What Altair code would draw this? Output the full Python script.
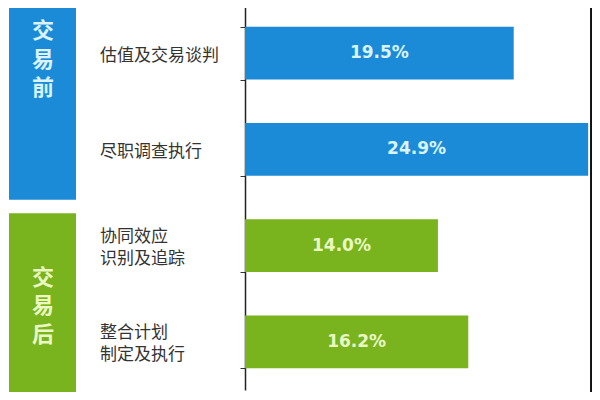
import altair as alt
import pandas as pd

# ---- data ----
categories = ["估值及交易谈判", "尽职调查执行", "协同效应\n识别及追踪", "整合计划\n制定及执行"]
values = [19.5, 24.9, 14.0, 16.2]
value_labels = ["19.5%", "24.9%", "14.0%", "16.2%"]
groups = ["交易前", "交易前", "交易后", "交易后"]

group_names = ["交易前", "交易后"]
group_first = ["估值及交易谈判", "协同效应\n识别及追踪"]
group_last = ["尽职调查执行", "整合计划\n制定及执行"]

# ---- styling / layout constants ----
BLUE = "#1B8BD7"
GREEN = "#79B31E"
BLUE_TXT = "#D9F4FF"
GREEN_TXT = "#EAF9C4"
X_MAX = 25.18      # right end of plot (value units)
X_RULE = 25.11     # right border line
CJK = "Noto Sans CJK SC"

df = pd.DataFrame({"cat": categories, "value": values, "label": value_labels, "group": groups})

yscale = alt.Scale(domain=categories, range=[-3, 382], paddingInner=0.45, paddingOuter=0.225)
xscale = alt.Scale(domain=[0, X_MAX], nice=False, zero=True)
cscale = alt.Scale(domain=group_names, range=[BLUE, GREEN])
txt_color = alt.condition(alt.datum.group == group_names[0], alt.value(BLUE_TXT), alt.value(GREEN_TXT))

base = alt.Chart(df)

bars = base.mark_bar().encode(
    y=alt.Y("cat:N", scale=yscale, sort=categories,
            axis=alt.Axis(title=None, domainColor="#222", domainWidth=1.5,
                          ticks=True, tickBand="extent", tickSize=5, tickColor="#333",
                          labels=False)),
    x=alt.X("value:Q", scale=xscale, axis=None),
    color=alt.Color("group:N", scale=cscale, legend=None),
)

# category labels (left of axis), single- and two-line
cat_labels = []
for is_multi, dy in [(False, 3), (True, -9)]:
    test = "indexof(datum.cat, '\\n') >= 0"
    cat_labels.append(
        base.transform_filter(test if is_multi else f"!({test})")
        .transform_calculate(lines="split(datum.cat, '\\n')")
        .mark_text(font=CJK, fontSize=17, color="#333", align="left", baseline="middle",
                   lineHeight=22, dy=dy)
        .encode(y=alt.Y("cat:N", scale=yscale, sort=categories),
                x=alt.value(-145), text="lines:N")
    )

bar_text = base.transform_calculate(mid="datum.value / 2").mark_text(
    font="DejaVu Sans", fontSize=17, fontWeight="bold", align="center", baseline="middle"
).encode(
    y=alt.Y("cat:N", scale=yscale, sort=categories),
    x=alt.X("mid:Q", scale=xscale),
    text="label:N",
    color=txt_color,
)

# group boxes
gdf = pd.DataFrame({"group": group_names, "first": group_first, "last": group_last})
box_offsets = {"交易前": (-60, 24), "交易后": (-6, 27)}
text_dy = {"交易前": -22, "交易后": 32}

layers = [bars, bar_text] + cat_labels
for g in group_names:
    gd = alt.Chart(gdf).transform_filter(alt.datum.group == g)
    top_off, bot_off = box_offsets[g]
    box = gd.mark_rect(yOffset=top_off, y2Offset=bot_off).encode(
        y=alt.Y("first:N", scale=yscale, bandPosition=0),
        y2=alt.Y2("last:N", bandPosition=1),
        x=alt.value(-236), x2=alt.value(-169),
        color=alt.Color("group:N", scale=cscale, legend=None),
    )
    txt = gd.transform_calculate(chars="split(datum.group, '')").mark_text(
        font=CJK, fontSize=22, fontWeight="bold", align="center", baseline="middle",
        lineHeight=28.5, dy=text_dy[g]
    ).encode(
        y=alt.Y("first:N", scale=yscale),
        x=alt.value(-202),
        text="chars:N",
        color=txt_color,
    )
    layers += [box, txt]

right_rule = base.transform_aggregate(n="count()").mark_rule(color="#111", strokeWidth=2).encode(
    x=alt.datum(X_RULE)
)
layers.append(right_rule)

chart = alt.layer(*layers).properties(
    width=347, height=384,
    autosize=alt.AutoSizeParams(type="none"),
    padding={"left": 237, "top": 0, "right": 0, "bottom": 0},
    background="white",
).configure_view(stroke=None)

chart.save("out.html", embed_options={"renderer": "svg", "actions": False})
